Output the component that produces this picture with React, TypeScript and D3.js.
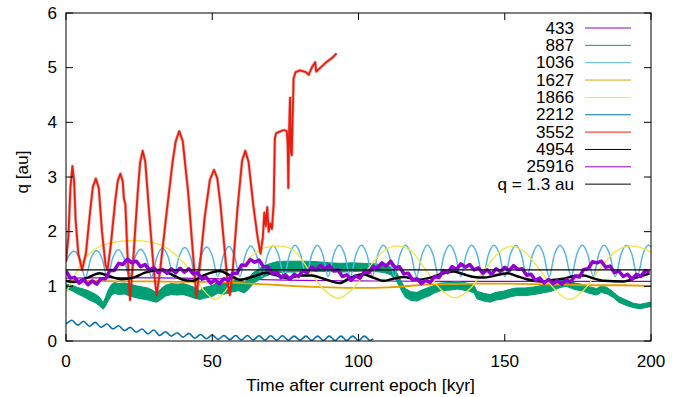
import React from 'react';
import * as d3 from 'd3';

const W = 688, H = 397;
const L = 66, R = 651, T = 13, B = 341;

const xTicks = [0, 50, 100, 150, 200];
const yTicks = [0, 1, 2, 3, 4, 5, 6];
const xTitle = 'Time after current epoch [kyr]';
const yTitle = 'q [au]';

const legendNames = ['433', '887', '1036', '1627', '1866', '2212', '3552', '4954', '25916', 'q = 1.3 au'];
const legendColors = ['#9400d3', '#009e73', '#56b4e9', '#e69f00', '#f0e442', '#0072b2', '#e51e10', '#000000', '#9400d3', '#000000'];

// 433 (thin, nearly flat)
const t433 = [0, 20, 40, 60, 80, 100, 130, 160, 200];
const q433 = [1.15, 1.16, 1.15, 1.13, 1.11, 1.1, 1.09, 1.09, 1.09];

// 887 (noisy band: centre and half spread)
const t887 = [0, 2, 4, 6, 8, 10, 11.5, 12.7, 13.5, 14.5, 15.5, 16.5, 18, 20, 22, 24, 26, 28, 30, 31, 32.5, 34, 36, 38, 40, 42, 44, 45.8, 47, 49, 50.5, 52, 53.5, 55, 57, 59, 61, 62.5, 64, 66, 68, 70, 72, 75, 78, 82, 86, 90, 94, 98, 102, 106, 109, 111, 113, 114.5, 116, 118, 120, 122, 124, 126, 128, 131, 134, 136, 138, 139.5, 140.5, 143, 145, 147, 149.5, 152, 154, 157, 160, 163, 166, 169, 171, 174, 177, 179, 181.5, 183, 185, 187, 189, 191.5, 194, 196.3, 198, 200];
const q887 = [1.0, 0.97, 0.92, 0.88, 0.83, 0.78, 0.72, 0.64, 0.72, 0.84, 0.93, 0.97, 0.95, 0.96, 0.93, 0.9, 0.88, 0.86, 0.82, 0.79, 0.86, 0.92, 0.95, 0.94, 0.95, 0.92, 0.88, 0.84, 0.88, 0.9, 0.93, 0.98, 0.95, 0.97, 1.0, 1.02, 0.98, 1.05, 1.15, 1.22, 1.28, 1.32, 1.35, 1.36, 1.36, 1.37, 1.36, 1.35, 1.34, 1.35, 1.35, 1.34, 1.32, 1.28, 1.18, 1.02, 0.88, 0.82, 0.81, 0.86, 0.9, 0.95, 0.99, 1.0, 1.02, 1.0, 0.98, 0.95, 0.84, 0.8, 0.78, 0.82, 0.84, 0.88, 0.9, 0.9, 0.92, 0.95, 0.98, 1.04, 1.06, 1.0, 0.97, 0.93, 0.9, 0.95, 0.92, 0.85, 0.76, 0.7, 0.65, 0.63, 0.65, 0.67];
const s887 = [0.04, 0.05, 0.06, 0.07, 0.08, 0.08, 0.08, 0.06, 0.08, 0.1, 0.1, 0.1, 0.1, 0.1, 0.11, 0.11, 0.11, 0.11, 0.1, 0.08, 0.1, 0.1, 0.1, 0.1, 0.1, 0.1, 0.1, 0.08, 0.1, 0.1, 0.1, 0.1, 0.1, 0.1, 0.1, 0.1, 0.1, 0.1, 0.1, 0.1, 0.1, 0.1, 0.1, 0.1, 0.1, 0.09, 0.09, 0.08, 0.08, 0.08, 0.07, 0.07, 0.07, 0.07, 0.08, 0.08, 0.08, 0.08, 0.08, 0.08, 0.08, 0.07, 0.07, 0.07, 0.07, 0.07, 0.07, 0.07, 0.07, 0.07, 0.07, 0.07, 0.07, 0.07, 0.07, 0.07, 0.07, 0.07, 0.07, 0.06, 0.06, 0.06, 0.06, 0.06, 0.06, 0.06, 0.06, 0.05, 0.05, 0.05, 0.04, 0.04, 0.04, 0.04];

// 1036
const t1036 = [0, 0.9, 2.8, 4.7, 6.6, 8.5, 10.4, 12.3, 14.15, 16.0, 17.9, 19.8, 21.7, 23.6, 25.5, 27.4, 29.25, 31.1, 33.0, 34.9, 36.8, 38.7, 40.6, 42.5, 44.35, 46.2, 48.1, 50.0, 51.9, 53.8, 55.7, 57.6, 59.45, 61.3, 63.2, 65.1, 67.0, 68.9, 70.8, 72.7, 74.55, 76.4, 78.3, 80.2, 82.1, 84.0, 85.9, 87.8, 89.65, 91.5, 93.4, 95.3, 97.2, 99.1, 101.0, 102.9, 104.75, 106.6, 108.5, 110.4, 112.3, 114.2, 116.1, 118.0, 119.85, 121.7, 123.6, 125.5, 127.4, 129.3, 131.2, 133.1, 134.95, 136.8, 138.7, 140.6, 142.5, 144.4, 146.3, 148.2, 150.05, 151.9, 153.8, 155.7, 157.6, 159.5, 161.4, 163.3, 165.15, 167.0, 168.9, 170.8, 172.7, 174.6, 176.5, 178.4, 180.25, 182.1, 184.0, 185.9, 187.8, 189.7, 191.6, 193.5, 195.35, 197.2, 199.1, 200];
const q1036 = [1.45, 1.55, 1.64, 1.5, 1.16, 1.51, 1.65, 1.51, 1.17, 1.52, 1.67, 1.52, 1.17, 1.53, 1.68, 1.53, 1.17, 1.54, 1.7, 1.54, 1.18, 1.55, 1.71, 1.55, 1.18, 1.56, 1.72, 1.56, 1.18, 1.56, 1.73, 1.56, 1.18, 1.57, 1.74, 1.57, 1.18, 1.57, 1.74, 1.57, 1.18, 1.58, 1.75, 1.58, 1.18, 1.58, 1.75, 1.58, 1.18, 1.58, 1.75, 1.58, 1.18, 1.58, 1.75, 1.58, 1.18, 1.58, 1.75, 1.58, 1.18, 1.58, 1.75, 1.58, 1.18, 1.58, 1.75, 1.58, 1.18, 1.58, 1.75, 1.58, 1.18, 1.58, 1.75, 1.58, 1.18, 1.58, 1.75, 1.58, 1.18, 1.58, 1.75, 1.58, 1.18, 1.58, 1.75, 1.58, 1.18, 1.58, 1.75, 1.58, 1.18, 1.58, 1.75, 1.58, 1.18, 1.58, 1.75, 1.58, 1.18, 1.58, 1.75, 1.58, 1.18, 1.58, 1.75, 1.72];

// 1627
const t1627 = [0, 10, 20, 30, 40, 50, 60, 70, 80, 90, 100, 110, 120, 130, 140, 150, 160, 170, 180, 190, 200];
const q1627 = [1.1, 1.1, 1.09, 1.09, 1.08, 1.08, 1.06, 1.03, 1.0, 0.98, 0.97, 0.98, 1.02, 1.04, 1.05, 1.05, 1.04, 1.03, 1.02, 1.02, 1.01];

// 1866
const t1866 = [0, 3, 6, 10, 15, 23, 31, 37, 42, 46, 51, 55, 59, 64, 68, 73, 78, 83, 88, 93, 98, 103, 108, 113, 118, 123, 128, 133, 138, 143, 148, 152, 157, 162, 167, 172, 177, 182, 187, 193, 198, 200];
const q1866 = [0.88, 1.2, 1.48, 1.68, 1.79, 1.84, 1.78, 1.6, 1.32, 1.0, 0.76, 0.95, 1.28, 1.58, 1.71, 1.74, 1.65, 1.3, 0.95, 0.78, 0.95, 1.3, 1.62, 1.74, 1.65, 1.3, 0.95, 0.79, 0.95, 1.3, 1.62, 1.73, 1.62, 1.3, 0.95, 0.76, 0.93, 1.28, 1.6, 1.74, 1.68, 1.62];

// 2212
const t2212 = [0, 2, 4, 6, 8, 10, 12, 14, 16, 18, 20, 22, 24, 26, 28, 30, 32, 34, 36, 38, 40, 42, 44, 46, 48, 50, 52, 54, 56, 58, 60, 62, 64, 66, 68, 70, 72, 74, 76, 78, 80, 82, 84, 86, 88, 90, 92, 94, 96, 98, 100, 102, 104, 105];
const q2212 = [0.31, 0.38, 0.29, 0.36, 0.27, 0.34, 0.25, 0.31, 0.22, 0.28, 0.19, 0.25, 0.16, 0.22, 0.13, 0.2, 0.1, 0.17, 0.09, 0.15, 0.07, 0.14, 0.05, 0.12, 0.04, 0.11, 0.03, 0.1, 0.025, 0.1, 0.02, 0.1, 0.02, 0.095, 0.018, 0.095, 0.015, 0.095, 0.015, 0.09, 0.015, 0.09, 0.012, 0.09, 0.012, 0.09, 0.01, 0.09, 0.01, 0.09, 0.01, 0.09, 0.01, 0.04];

// 3552
const t3552 = [0, 0.8, 1.5, 2.2, 2.8, 3.3, 4.2, 5.5, 6.8, 8.3, 9.2, 10.2, 11.2, 12.3, 13.5, 14.2, 15.3, 16.8, 17.7, 18.6, 19.4, 19.8, 20.3, 21.0, 21.9, 23.0, 24.5, 25.3, 26.2, 27.1, 28.5, 30, 31, 32.2, 34.5, 36.5, 37.5, 38.7, 39.9, 41.8, 43.4, 44.6, 45.8, 47.5, 49.2, 50.6, 51.7, 52.8, 54, 55.2, 56, 57, 58.6, 60.2, 61.3, 62.4, 64, 65.5, 66.5, 67.3, 67.8, 68.3, 68.8, 69.3, 69.8, 70.4, 71.0, 71.4, 71.8, 73, 74.5, 75.5, 75.8, 76.0, 76.3, 76.6, 76.9, 77.2, 77.8, 78.5, 80, 82, 83, 84, 85.2, 85.5, 87, 89, 91, 92.5];
const q3552 = [1.45, 1.9, 2.8, 3.2, 2.9, 2.2, 1.6, 1.3, 1.6, 2.4, 2.82, 2.97, 2.8, 2.0, 1.4, 1.3, 1.75, 2.55, 2.93, 3.06, 2.92, 2.6, 2.5, 1.6, 0.75, 1.5, 2.7, 3.25, 3.48, 3.28, 2.3, 1.3, 0.84, 1.3, 2.4, 3.3, 3.65, 3.84, 3.66, 2.7, 1.6, 0.8, 1.4, 2.3, 2.95, 3.13, 2.98, 2.5, 1.8, 1.1, 0.84, 1.3, 2.4, 3.3, 3.48, 3.28, 2.5, 1.9, 1.6, 1.9, 2.35, 2.1, 2.45, 2.0, 2.15, 2.05, 2.5, 3.7, 3.8, 3.83, 3.86, 3.84, 3.6, 2.8, 3.9, 4.45, 3.45, 3.4, 4.8, 4.92, 4.95, 4.92, 4.87, 5.0, 5.1, 4.93, 5.0, 5.1, 5.18, 5.26];

// 4954
const t4954 = [0, 3, 7, 11.5, 15, 19, 23, 27, 31.5, 36, 40, 43, 47, 52.5, 56, 59.5, 64, 68.5, 72, 76, 80, 84, 88, 93.5, 97, 101.5, 105, 108.5, 112, 115.5, 120, 124, 128, 132.5, 136, 139.5, 143, 146, 151, 154, 157.5, 163, 167, 170, 173, 177, 180, 184, 190.5, 195, 199.5];
const q4954 = [1.1, 1.08, 1.15, 1.24, 1.18, 1.13, 1.16, 1.25, 1.3, 1.22, 1.12, 1.1, 1.2, 1.28, 1.2, 1.12, 1.18, 1.25, 1.2, 1.15, 1.2, 1.2, 1.14, 1.06, 1.15, 1.22, 1.16, 1.1, 1.14, 1.17, 1.12, 1.15, 1.22, 1.27, 1.22, 1.17, 1.16, 1.19, 1.24, 1.19, 1.13, 1.09, 1.12, 1.14, 1.18, 1.2, 1.15, 1.1, 1.09, 1.16, 1.24];

// 25916 (sampled every 1.5 kyr)
const step25916 = 1.5;
const q25916 = [1.28, 1.15, 1.16, 1.06, 1.12, 1.03, 1.10, 1.04, 1.14, 1.14, 1.29, 1.29, 1.42, 1.40, 1.50, 1.43, 1.46, 1.36, 1.40, 1.30, 1.34, 1.25, 1.31, 1.24, 1.32, 1.25, 1.33, 1.26, 1.32, 1.23, 1.25, 1.13, 1.16, 1.06, 1.12, 1.05, 1.14, 1.11, 1.24, 1.24, 1.39, 1.38, 1.49, 1.44, 1.48, 1.36, 1.36, 1.23, 1.26, 1.16, 1.21, 1.13, 1.22, 1.18, 1.29, 1.25, 1.35, 1.30, 1.38, 1.32, 1.38, 1.28, 1.30, 1.18, 1.21, 1.11, 1.19, 1.15, 1.27, 1.25, 1.36, 1.33, 1.43, 1.37, 1.46, 1.34, 1.36, 1.23, 1.24, 1.12, 1.14, 1.05, 1.11, 1.07, 1.18, 1.16, 1.29, 1.25, 1.36, 1.31, 1.41, 1.35, 1.40, 1.30, 1.34, 1.24, 1.30, 1.22, 1.32, 1.27, 1.35, 1.29, 1.38, 1.31, 1.32, 1.20, 1.22, 1.11, 1.15, 1.06, 1.13, 1.05, 1.11, 1.04, 1.12, 1.08, 1.19, 1.17, 1.31, 1.32, 1.45, 1.43, 1.46, 1.35, 1.37, 1.25, 1.28, 1.18, 1.22, 1.13, 1.22, 1.18, 1.29, 1.26];

const qLimit = 1.3;

const font = '"Liberation Sans", Arial, Helvetica, sans-serif';

function Label({ x, y, anchor, sx = 1.07, children }: { x: number; y: number; anchor: string; sx?: number; children: React.ReactNode }) {
  return (
    <text transform={`translate(${x},${y}) scale(${sx},1)`} textAnchor={anchor} fontSize={16}>{children}</text>
  );
}

export default function App() {
  const x = d3.scaleLinear().domain([0, 200]).range([L, R]);
  const y = d3.scaleLinear().domain([0, 6]).range([B, T]);

  const pts = (ts: number[], qs: number[]) => ts.map((t, i) => [t, qs[i]] as [number, number]);
  const smooth = d3.line<[number, number]>().x(d => x(d[0])).y(d => y(d[1])).curve(d3.curveMonotoneX);
  const straight = d3.line<[number, number]>().x(d => x(d[0])).y(d => y(d[1]));
  const band = d3.area<number>()
    .x((_, i) => x(t887[i]))
    .y0((_, i) => y(q887[i] - s887[i]))
    .y1((_, i) => y(q887[i] + s887[i]))
    .curve(d3.curveLinear);

  const p25916 = q25916.map((q, i) => [i * step25916, q] as [number, number]);

  return (
    <svg width={W} height={H} style={{ position: 'absolute', left: 0, top: 0, background: '#fff' }} fontFamily={font}>
      <rect x={0} y={0} width={W} height={H} fill="#fff" />
      <defs>
        <clipPath id="plot">
          <rect x={L} y={T} width={R - L} height={B - T} />
        </clipPath>
      </defs>
      <g clipPath="url(#plot)">
        <path d={smooth(pts(t433, q433)) || ''} fill="none" stroke={legendColors[0]} strokeWidth={1.2} />
        <path d={band(q887) || ''} fill={legendColors[1]} stroke={legendColors[1]} strokeWidth={1} />
        <path d={smooth(pts(t1036, q1036)) || ''} fill="none" stroke={legendColors[2]} strokeWidth={1.5} />
        <path d={smooth(pts(t1627, q1627)) || ''} fill="none" stroke={legendColors[3]} strokeWidth={1.8} />
        <path d={smooth(pts(t1866, q1866)) || ''} fill="none" stroke={legendColors[4]} strokeWidth={1.3} />
        <path d={smooth(pts(t2212, q2212)) || ''} fill="none" stroke={legendColors[5]} strokeWidth={1.6} />
        <path d={straight(pts(t3552, q3552)) || ''} fill="none" stroke={legendColors[6]} strokeOpacity={0.35} strokeWidth={3.2} strokeLinejoin="round" />
        <path d={straight(pts(t3552, q3552)) || ''} fill="none" stroke={legendColors[6]} strokeWidth={1.8} strokeLinejoin="round" />
        <path d={smooth(pts(t4954, q4954)) || ''} fill="none" stroke={legendColors[7]} strokeWidth={2.5} />
        <path d={straight(p25916) || ''} fill="none" stroke={legendColors[8]} strokeWidth={3.5} strokeLinejoin="round" />
        <line x1={x(0)} x2={x(200)} y1={y(qLimit)} y2={y(qLimit)} stroke="#000" strokeWidth={1.2} />
      </g>
      {/* frame and ticks */}
      <rect x={L} y={T} width={R - L} height={B - T} fill="none" stroke="#000" strokeWidth={1} />
      {xTicks.map(v => (
        <g key={'x' + v}>
          <line x1={x(v)} x2={x(v)} y1={B} y2={B - 7} stroke="#000" />
          <line x1={x(v)} x2={x(v)} y1={T} y2={T + 7} stroke="#000" />
          <Label x={x(v)} y={367} anchor="middle">{v}</Label>
        </g>
      ))}
      {yTicks.map(v => (
        <g key={'y' + v}>
          <line x1={L} x2={L + 7} y1={y(v)} y2={y(v)} stroke="#000" />
          <line x1={R} x2={R - 7} y1={y(v)} y2={y(v)} stroke="#000" />
          <Label x={57} y={y(v) + 5.5} anchor="end">{v}</Label>
        </g>
      ))}
      <Label x={(L + R) / 2 + 2} y={391} anchor="middle" sx={1.1}>{xTitle}</Label>
      <text transform={`translate(28,172) rotate(-90) scale(1.07,1)`} textAnchor="middle" fontSize={16}>{yTitle}</text>
      {/* legend */}
      {legendNames.map((n, i) => {
        const ly = 28 + i * 17.35;
        return (
          <g key={n}>
            <Label x={574} y={ly + 5.5} anchor="end">{n}</Label>
            <line x1={585} x2={631} y1={ly} y2={ly} stroke={legendColors[i]} strokeWidth={1} />
          </g>
        );
      })}
    </svg>
  );
}
